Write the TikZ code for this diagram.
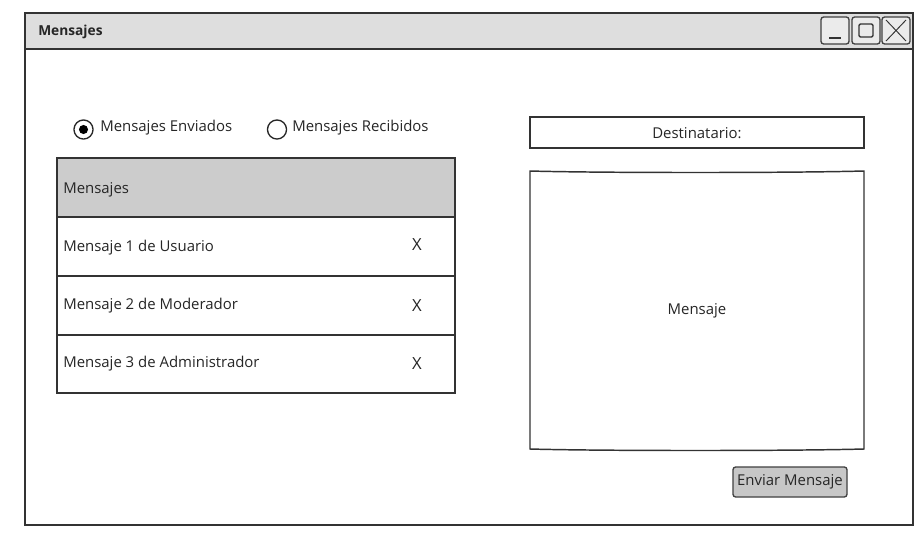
\documentclass[tikz,border=0pt]{standalone}
\usepackage{fontspec}
\setmainfont{Open Sans}
\begin{document}
\begin{tikzpicture}[x=0.75pt,y=-0.75pt,
  line/.style={draw=black!80,line width=1.1pt},
  lbl/.style={font=\fontsize{11.2}{13}\selectfont,text=black!85,inner sep=0pt},
  xmark/.style={font=\fontsize{12.5}{14}\selectfont,text=black!85,inner sep=0pt},
  rowbox/.style={line,fill=white},
  radio/.style={circle,draw=black!85,line width=1pt,minimum size=14.3pt,inner sep=0pt},
  winbtn/.style={draw=black!75,line width=1pt,rounded corners=2pt,fill=black!8}
]
\useasboundingbox (0,0) rectangle (922,547);
% window
\draw[line,fill=white] (25,13) rectangle (913,525);
\draw[line,fill=black!13] (25,13) rectangle (913,49);
\node[lbl,anchor=west,font=\bfseries\fontsize{10.3}{12}\selectfont] (title) at (38,32) {Mensajes};
% window buttons
\draw[winbtn] (821,17) rectangle (849,44);
\draw[line width=1pt,black!80] (829,38) -- (841,38);
\draw[winbtn] (852,17) rectangle (880,44);
\draw[line width=1pt,black!80,rounded corners=1pt] (859,24) rectangle (873,37);
\draw[winbtn] (882,17) rectangle (910,44);
\draw[line width=0.7pt,black!80] (886,20) -- (906,41) (906,20) -- (886,41);
% radios
\node[radio] (r1) at (83.5,129.5) {};
\fill[black] (r1.center) circle (3.4pt);
\node[lbl,anchor=west] (t1) at (100,128) {Mensajes Enviados};
\node[radio] (r2) at (277,129.5) {};
\node[lbl,anchor=west] (t2) at (292,128) {Mensajes Recibidos};
% list
\draw[line,fill=black!20] (57,158) rectangle (455,217);
\node[lbl,anchor=west] (h) at (63,190) {Mensajes};
\draw[rowbox] (57,217) rectangle (455,276);
\node[lbl,anchor=west] (m1) at (63,248) {Mensaje 1 de Usuario};
\node[xmark] (x1) at (417,245) {X};
\draw[rowbox] (57,276) rectangle (455,335);
\node[lbl,anchor=west] (m2) at (63,306) {Mensaje 2 de Moderador};
\node[xmark] (x2) at (417,306) {X};
\draw[rowbox] (57,335) rectangle (455,393);
\node[lbl,anchor=west] (m3) at (63,364) {Mensaje 3 de Administrador};
\node[xmark] (x3) at (417,364) {X};
% destinatario
\draw[line] (530,117) rectangle (864,148);
\node[lbl] (dest) at (697,133) {Destinatario:};
% mensaje box
\draw[line] (530,171) .. controls (600,173) and (790,173) .. (864,171) -- (864,449) .. controls (790,451) and (600,451) .. (530,449) -- cycle;
\node[lbl] (msg) at (697,311) {Mensaje};
% button
\draw[draw=black!75,line width=1pt,rounded corners=2pt,fill=black!22] (733,467) rectangle (847,497);
\node[lbl] (send) at (790,482) {Enviar Mensaje};
\end{tikzpicture}
\end{document}
